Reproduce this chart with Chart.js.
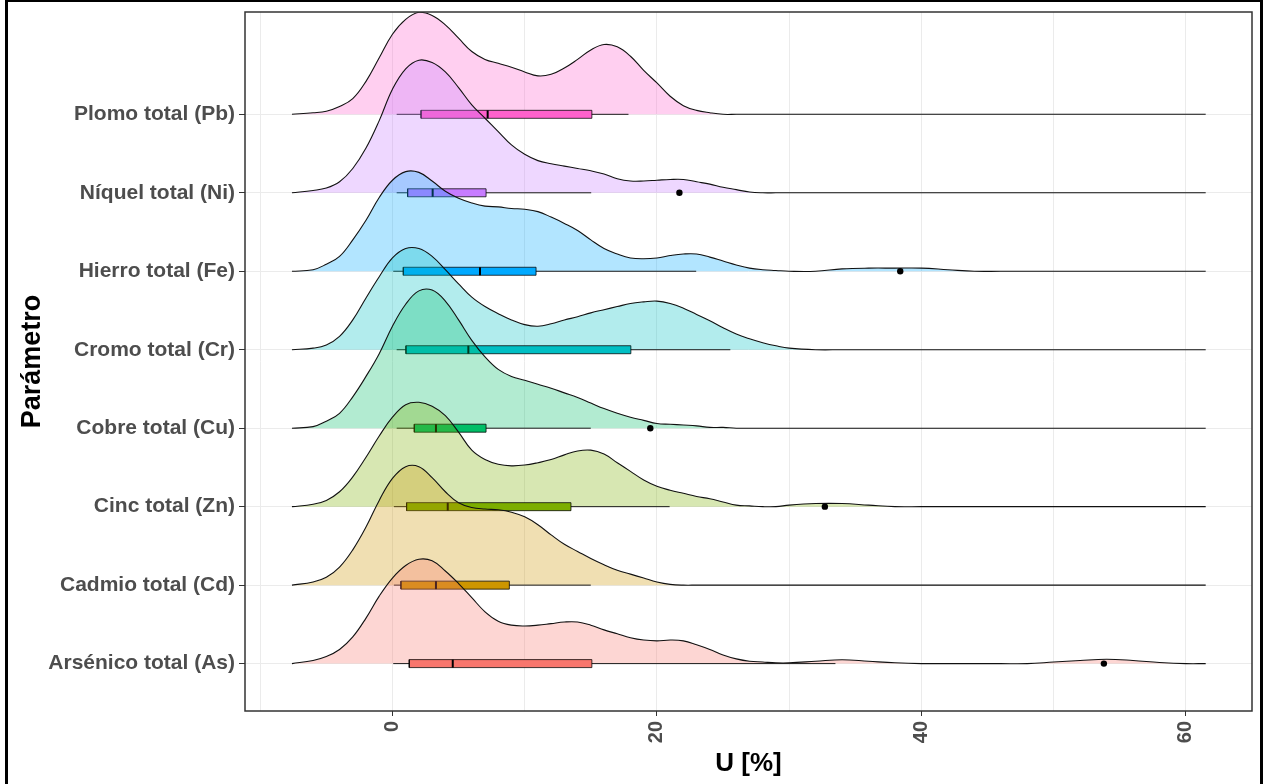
<!DOCTYPE html>
<html>
<head>
<meta charset="utf-8">
<script src="https://cdn.jsdelivr.net/npm/chart.js@4.4.1/dist/chart.umd.min.js"></script>
<style>
    html, body { margin: 0; padding: 0; background: #fff; overflow: hidden; }
    #wrap { position: absolute; left: 0; top: 0; width: 1265px; height: 784px; }
    #frame { position: absolute; left: 5px; top: -1px; width: 1258px; height: 800px;
             border: 3px solid #000; box-sizing: border-box; pointer-events: none; }
</style>
</head>
<body>
<div id="wrap"><canvas id="chart" width="1265" height="784"></canvas></div>
<div id="frame"></div>
<script>
// categories, bottom to top
const CATEGORIES = [
    'Arsénico total (As)', 'Cadmio total (Cd)', 'Cinc total (Zn)', 'Cobre total (Cu)',
    'Cromo total (Cr)', 'Hierro total (Fe)', 'Níquel total (Ni)', 'Plomo total (Pb)'
];
const COLORS = ['#F8766D', '#CD9600', '#7CAE00', '#00BE67', '#00BFC4', '#00A9FF', '#C77CFF', '#FF61CC'];

const X_GRID_TICKS = [-10, 0, 10, 20, 30, 40, 50, 60];
const X_LABEL_TICKS = [0, 20, 40, 60];

// U [%] positions where the ridge heights were read
const U_GRID = [
    -7.6, -6, -5, -4, -3, -2, -1, 0,
    1, 2, 3, 4, 5, 6, 7, 8, 9, 10,
    11, 12, 13, 14, 15, 16, 17, 18, 19, 20,
    21, 22, 23, 24, 25, 26, 27, 28, 29, 30,
    32, 34, 36, 38, 40, 42, 44, 46, 48, 50, 52, 54, 56, 58, 60, 61.5
];

// scaled density heights (in category rows)
const DENS_AS = [
    0, .04, .09, .18, .34, .58, .86, 1.09,
    1.25, 1.33, 1.31, 1.18, 1.02, .84, .66, .54, .49, .48,
    .49, .51, .53, .53, .49, .43, .38, .33, .30, .29,
    .30, .29, .24, .18, .11, .06, .03, .02, .01, .01,
    .03, .05, .03, .01, 0, 0, 0, 0, 0, .02, .04, .055, .04, .015, 0, 0
];
const DENS_CD = [
    0, .04, .10, .23, .45, .74, 1.08, 1.36,
    1.51, 1.51, 1.37, 1.19, 1.05, .99, .97, .96, .93, .87,
    .77, .64, .52, .43, .34, .26, .19, .14, .09, .04,
    .01, 0, 0, 0, 0, 0, 0, 0, 0, 0,
    0, 0, 0, 0, 0, 0, 0, 0, 0, 0, 0, 0, 0, 0, 0, 0
];
const DENS_ZN = [
    0, .03, .08, .19, .38, .63, .90, 1.14,
    1.30, 1.33, 1.28, 1.16, .95, .72, .60, .54, .52, .53,
    .56, .60, .66, .71, .72, .67, .56, .45, .34, .26,
    .21, .17, .13, .10, .06, .02, .01, 0, 0, .02,
    .04, .04, .02, 0, 0, 0, 0, 0, 0, 0, 0, 0, 0, 0, 0, 0
];
const DENS_CU = [
    0, .02, .09, .19, .40, .66, .95, 1.30,
    1.58, 1.75, 1.76, 1.62, 1.38, 1.12, .91, .75, .66, .61,
    .56, .51, .45, .39, .32, .25, .19, .14, .10, .06,
    .05, .04, .03, .01, .01, 0, 0, 0, 0, 0,
    0, 0, 0, 0, 0, 0, 0, 0, 0, 0, 0, 0, 0, 0, 0, 0
];
const DENS_CR = [
    0, .02, .06, .17, .38, .66, .93, 1.17,
    1.29, 1.29, 1.19, 1.02, .84, .67, .55, .46, .38, .32,
    .30, .33, .38, .42, .47, .51, .55, .59, .61, .62,
    .59, .53, .45, .37, .28, .20, .14, .09, .05, .02,
    0, 0, 0, 0, 0, 0, 0, 0, 0, 0, 0, 0, 0, 0, 0, 0
];
const DENS_FE = [
    0, .02, .09, .19, .40, .65, .94, 1.16,
    1.27, 1.26, 1.15, 1.02, .93, .87, .83, .82, .80, .79,
    .76, .69, .61, .52, .40, .29, .22, .17, .16, .17,
    .20, .22, .22, .18, .13, .08, .04, .02, .01, 0,
    0, .03, .04, .04, .04, .02, 0, 0, 0, 0, 0, 0, 0, 0, 0, 0
];
const DENS_NI = [
    0, .03, .06, .14, .31, .57, .92, 1.32,
    1.58, 1.69, 1.66, 1.54, 1.34, 1.12, .95, .78, .61, .49,
    .41, .37, .34, .31, .28, .24, .18, .15, .15, .16,
    .17, .17, .14, .11, .07, .04, .01, 0, 0, 0,
    0, 0, 0, 0, 0, 0, 0, 0, 0, 0, 0, 0, 0, 0, 0, 0
];
const DENS_PB = [
    0, .02, .04, .10, .20, .42, .72, 1.02,
    1.21, 1.30, 1.26, 1.14, .97, .80, .70, .65, .60, .54,
    .49, .51, .59, .70, .82, .89, .86, .74, .56, .40,
    .23, .11, .05, .02, 0, 0, 0, 0, 0, 0,
    0, 0, 0, 0, 0, 0, 0, 0, 0, 0, 0, 0, 0, 0, 0, 0
];
const DENSITIES = [DENS_AS, DENS_CD, DENS_ZN, DENS_CU, DENS_CR, DENS_FE, DENS_NI, DENS_PB];

// boxplot stats, same order as CATEGORIES
const BOX_LOW = [0.06, 0.11, 0.11, 0.32, 0.32, 0.06, 0.32, 0.32];
const BOX_Q1 = [1.27, 0.64, 1.07, 1.65, 1.02, 0.82, 1.15, 2.16];
const BOX_MED = [4.56, 3.29, 4.18, 3.29, 5.74, 6.62, 3.04, 7.2];
const BOX_Q3 = [15.08, 8.84, 13.5, 7.08, 18.03, 10.86, 7.08, 15.08];
const BOX_HIGH = [33.5, 15.0, 20.96, 15.0, 25.55, 22.97, 15.03, 17.85];
const OUTLIERS = [[53.8], [], [32.7], [19.5], [], [38.4], [21.7], []];

const FONT = '"Liberation Sans", Arial, sans-serif';
const BOX_HALF = 0.051;

function withAlpha(hex, a) {
    const n = parseInt(hex.slice(1), 16);
    return `rgba(${(n >> 16) & 255},${(n >> 8) & 255},${n & 255},${a})`;
}

function buildDatasets() {
    const datasets = [];
    // top row first: ggridges paints upper ridges underneath lower ones
    for (let i = CATEGORIES.length - 1; i >= 0; i--) {
        const base = i + 1;
        const rank = (CATEGORIES.length - 1 - i) * 10;
        const dens = DENSITIES[i];

        datasets.push({
            type: 'line',
            data: U_GRID.map((u, k) => ({ x: u, y: base + dens[k] })),
            borderColor: '#111',
            borderWidth: 1.1,
            backgroundColor: withAlpha(COLORS[i], 0.3),
            fill: { value: base },
            pointRadius: 0,
            tension: 0.4,
            order: 1000 - rank
        });
        datasets.push({
            type: 'line',
            data: [{ x: BOX_LOW[i], y: base }, { x: BOX_HIGH[i], y: base }],
            borderColor: '#1a1a1a',
            borderWidth: 1,
            pointRadius: 0,
            fill: false,
            order: 999 - rank
        });
        datasets.push({
            type: 'line',
            data: [
                { x: BOX_Q1[i], y: base - BOX_HALF },
                { x: BOX_Q3[i], y: base - BOX_HALF },
                { x: BOX_Q3[i], y: base + BOX_HALF },
                { x: BOX_Q1[i], y: base + BOX_HALF },
                { x: BOX_Q1[i], y: base - BOX_HALF }
            ],
            borderColor: 'rgba(0,0,0,0.75)',
            borderWidth: 1,
            backgroundColor: COLORS[i],
            fill: 'shape',
            tension: 0,
            pointRadius: 0,
            order: 998 - rank
        });
        datasets.push({
            type: 'line',
            data: [{ x: BOX_MED[i], y: base - BOX_HALF }, { x: BOX_MED[i], y: base + BOX_HALF }],
            borderColor: '#000',
            borderWidth: 2,
            pointRadius: 0,
            fill: false,
            order: 997 - rank
        });
        if (OUTLIERS[i].length) {
            datasets.push({
                type: 'scatter',
                data: OUTLIERS[i].map(u => ({ x: u, y: base })),
                pointRadius: 3.2,
                pointBackgroundColor: '#000',
                pointBorderWidth: 0,
                order: 996 - rank
            });
        }
    }
    return datasets;
}

const panelBorder = {
    id: 'panelBorder',
    afterDatasetsDraw(chart) {
        const { ctx, chartArea: a } = chart;
        ctx.save();
        ctx.strokeStyle = '#333';
        ctx.lineWidth = 1.5;
        ctx.strokeRect(a.left, a.top, a.right - a.left, a.bottom - a.top);
        ctx.restore();
    }
};

new Chart(document.getElementById('chart'), {
    type: 'line',
    data: { datasets: buildDatasets() },
    plugins: [panelBorder],
    options: {
        responsive: false,
        animation: false,
        events: [],
        layout: { padding: { left: 8, top: 12, right: 13, bottom: 0 } },
        plugins: {
            legend: { display: false },
            tooltip: { enabled: false }
        },
        scales: {
            x: {
                type: 'linear',
                min: -11.15,
                max: 65.0,
                afterBuildTicks: axis => {
                    axis.ticks = X_GRID_TICKS.map(v => ({ value: v }));
                },
                afterFit: axis => {
                    axis.height = 73;
                    axis.paddingLeft = 0;
                    axis.paddingRight = 0;
                },
                grid: {
                    color: '#EBEBEB',
                    lineWidth: 1,
                    tickLength: 5,
                    tickColor: ctx => X_LABEL_TICKS.includes(ctx.tick.value) ? '#333' : 'rgba(0,0,0,0)'
                },
                border: { display: false },
                ticks: {
                    autoSkip: false,
                    minRotation: 90,
                    maxRotation: 90,
                    padding: 5,
                    color: '#4D4D4D',
                    font: { family: FONT, size: 20, weight: 'bold' },
                    callback: v => X_LABEL_TICKS.includes(v) ? String(v) : ''
                },
                title: {
                    display: true,
                    text: 'U [%]',
                    color: '#000',
                    font: { family: FONT, size: 26, weight: 'bold' },
                    padding: { top: 0, bottom: 5 }
                }
            },
            y: {
                type: 'linear',
                min: 0.396,
                max: 9.304,
                afterBuildTicks: axis => {
                    axis.ticks = CATEGORIES.map((_, i) => ({ value: i + 1 }));
                },
                afterFit: axis => {
                    axis.width = 237;
                    axis.paddingTop = 0;
                    axis.paddingBottom = 0;
                },
                grid: {
                    color: '#EBEBEB',
                    lineWidth: 1,
                    tickLength: 6,
                    tickColor: '#333'
                },
                border: { display: false },
                ticks: {
                    autoSkip: false,
                    padding: 4,
                    color: '#4D4D4D',
                    font: { family: FONT, size: 21, weight: 'bold' },
                    callback: v => CATEGORIES[v - 1]
                },
                title: {
                    display: true,
                    text: 'Parámetro',
                    color: '#000',
                    font: { family: FONT, size: 27, weight: 'bold' },
                    padding: { top: 8, bottom: 0 }
                }
            }
        }
    }
});
</script>
</body>
</html>
